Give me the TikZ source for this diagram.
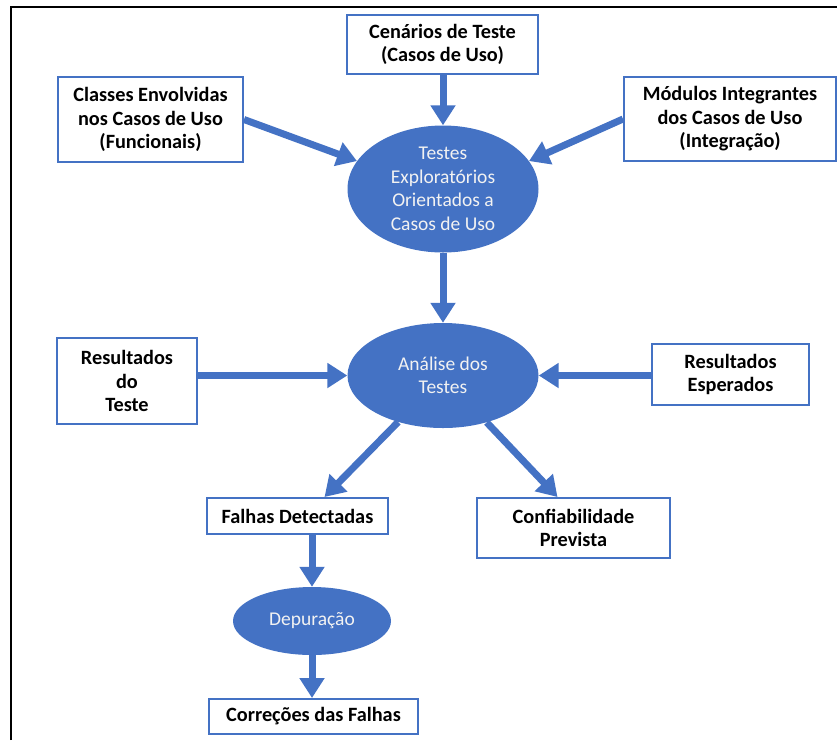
\documentclass[tikz,border=0pt]{standalone}
\usepackage{fontspec}
\setmainfont{Carlito}
\usetikzlibrary{arrows.meta,shapes.geometric,calc}
\definecolor{obl}{HTML}{4472C4}
\definecolor{etxt}{HTML}{F2F2F2}
\begin{document}
\begin{tikzpicture}[x=1pt,y=-1pt,
  box/.style={draw=obl,line width=2pt,fill=white,inner sep=0pt,align=center,
    font=\fontsize{20.3}{23.5}\selectfont\bfseries,text=black},
  ell/.style={ellipse,fill=obl,inner sep=0pt,align=center,
    font=\fontsize{19.5}{23.5}\selectfont,text=etxt},
  arr/.style={draw=obl,line width=7pt,-{Triangle[length=20pt,width=24pt]},color=obl}]
\useasboundingbox (0,0) rectangle (837,740);
\draw[line width=2pt,black] (11,740) -- (11,7) -- (837,7);

\node[box,minimum width=191pt,minimum height=59pt] (cen) at (442.5,44.5) {Cenários de Teste\\(Casos de Uso)};
\node[box,minimum width=185pt,minimum height=85pt] (cla) at (150.5,119.5) {Classes Envolvidas\\nos Casos de Uso\\(Funcionais)};
\node[box,minimum width=212pt,minimum height=84pt] (mod) at (730,119) {Módulos Integrantes\\dos Casos de Uso\\(Integração)};
\node[ell,minimum width=191pt,minimum height=127pt] (e1) at (443,189) {Testes\\Exploratórios\\Orientados a\\Casos de Uso};
\node[ell,minimum width=191pt,minimum height=105pt] (e2) at (443,375.5) {Análise dos\\Testes};
\node[box,minimum width=140pt,minimum height=86pt] (rdt) at (127,381) {Resultados\\do\\Teste};
\node[box,minimum width=157pt,minimum height=61pt] (res) at (730.5,374.5) {Resultados\\Esperados};
\node[box,minimum width=181pt,minimum height=36pt] (fal) at (297.5,516) {Falhas Detectadas};
\node[box,minimum width=193pt,minimum height=60pt] (con) at (573.5,528) {Confiabilidade\\Prevista};
\node[ell,minimum width=158pt,minimum height=68pt] (dep) at (312,621) {Depuração};
\node[box,minimum width=209pt,minimum height=35pt] (cor) at (313.5,716.5) {Correções das Falhas};

\draw[arr] (e1.north |- cen.south) -- (e1.north);
\draw[arr] (cla.east) -- (e1.162);
\draw[arr] (mod.west) -- (e1.18);
\draw[arr] (e1.south) -- (e2.north);
\draw[arr] (rdt.east |- e2.west) -- (e2.west);
\draw[arr] (res.west |- e2.east) -- (e2.east);
\draw[arr] (e2.226) -- ($(fal.north)+(27,0)$);
\draw[arr] (e2.313) -- ($(con.north)+(-16,0)$);
\draw[arr] (dep.north |- fal.south) -- (dep.north);
\draw[arr] (dep.south) -- (dep.south |- cor.north);
\end{tikzpicture}
\end{document}
